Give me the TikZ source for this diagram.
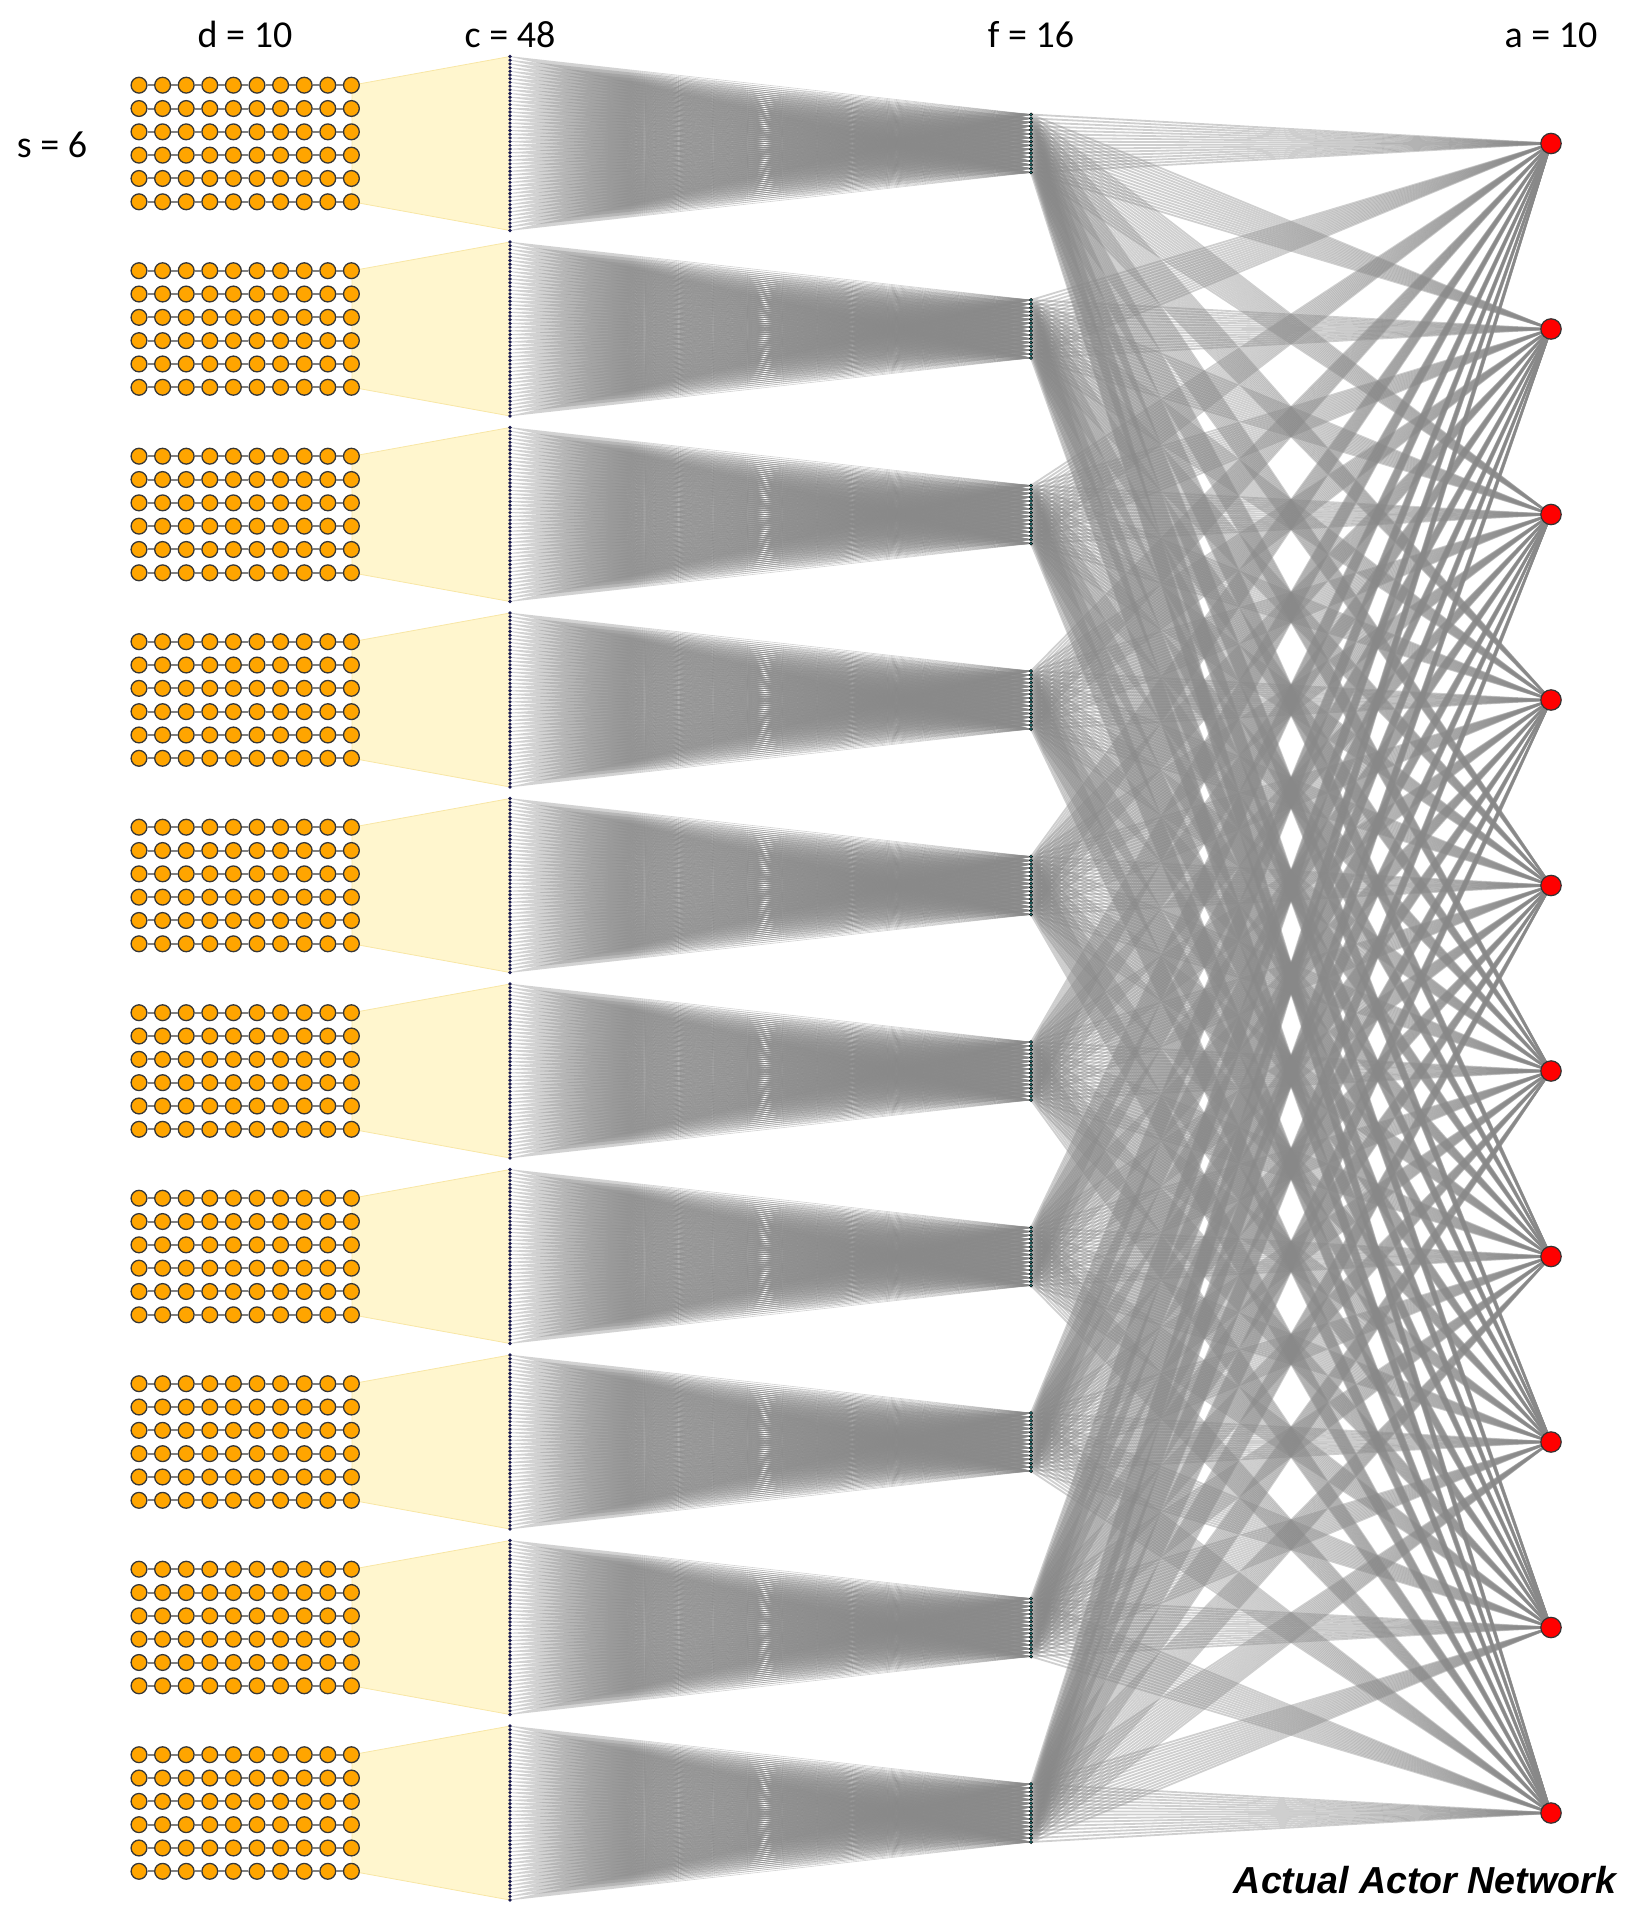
\documentclass[tikz,border=0pt]{standalone}
\usepackage{fontspec}
\setmainfont{Carlito}
\newfontfamily\titlefont{Liberation Sans}

\definecolor{inorange}{RGB}{255,165,0}
\definecolor{inedge}{RGB}{55,55,55}
\definecolor{trapfill}{RGB}{255,246,206}
\definecolor{trapedge}{RGB}{248,230,165}
\definecolor{cnavy}{RGB}{25,25,80}
\definecolor{fteal}{RGB}{30,110,110}
\definecolor{linkgray}{RGB}{136,136,136}

\begin{document}
\begin{tikzpicture}[x=0.5pt, y=-0.5pt,
    innode/.style={circle, draw=inedge, fill=inorange, line width=0.65pt, minimum size=7.9pt, inner sep=0pt},
    rowlink/.style={draw=gray, line width=1pt},
    trap/.style={fill=trapfill, draw=trapedge, line width=0.4pt},
    cdot/.style={circle, fill=cnavy, inner sep=0pt, minimum size=1.8pt},
    fdot/.style={circle, draw=black, fill=fteal, line width=0.2pt, inner sep=0pt, minimum size=1.7pt},
    anode/.style={circle, draw=black!80, fill=red, line width=0.6pt, minimum size=10.2pt, inner sep=0pt},
    cflink/.style={linkgray, line width=0.3pt, opacity=0.38},
    falink/.style={linkgray, line width=0.9pt, opacity=0.4},
    dimlabel/.style={font=\fontsize{19}{23}\selectfont, anchor=base},
    netlabel/.style={font=\titlefont\bfseries\itshape\fontsize{18.8}{23}\selectfont, anchor=base}
]
    \useasboundingbox (0,0) rectangle (1645,1920);
    % Posicoes das camadas
    \foreach \k in {0,...,9} {
        \pgfmathsetmacro\yk{143.5+185.5*\k}
        \coordinate (a-\k) at (1551,\yk);
        \foreach \i in {1,...,48} {\coordinate (c-\k-\i) at (510,{\yk-87+174/47*(\i-1)});}
        \foreach \j in {1,...,16} {\coordinate (f-\k-\j) at (1031,{\yk-29+58/15*(\j-1)});}
    }
    % Trapezios
    \foreach \k in {0,...,9} {
        \pgfmathsetmacro\yk{143.5+185.5*\k}
        \draw[trap] (352,{\yk-58.3}) -- (c-\k-1) -- (c-\k-48) -- (352,{\yk+58.3}) -- cycle;
    }
    % Ligacoes c -> f (um caminho por no c)
    \foreach \k in {0,...,9}
        \foreach \i in {1,...,48}
            \draw[cflink] foreach \j in {1,...,16} {(c-\k-\i) -- (f-\k-\j)};
    % Ligacoes f -> a (um caminho por no f)
    \foreach \k in {0,...,9}
        \foreach \j in {1,...,16}
            \draw[falink] foreach \m in {0,...,9} {(f-\k-\j) -- (a-\m)};
    % Grades de entrada
    \foreach \k in {0,...,9} {
        \pgfmathsetmacro\yk{143.5+185.5*\k}
        \foreach \r in {0,...,5} {
            \foreach \q in {0,...,9}
                \node[innode] (g-\k-\r-\q) at ({139+23.6*\q},{\yk-58.3+23.32*\r}) {};
            \foreach \q [count=\p from 1] in {0,...,8}
                \draw[rowlink] (g-\k-\r-\q) -- (g-\k-\r-\p);
        }
    }
    % Nos c, f e a
    \foreach \k in {0,...,9} {
        \foreach \i in {1,...,48} \node[cdot] at (c-\k-\i) {};
        \foreach \j in {1,...,16} \node[fdot] at (f-\k-\j) {};
        \node[anode] (act-\k) at (a-\k) {};
    }
    % Rotulos
    \node[dimlabel] (lbl-d) at (245,48) {d = 10};
    \node[dimlabel] (lbl-c) at (510,48) {c = 48};
    \node[dimlabel] (lbl-f) at (1031,48) {f = 16};
    \node[dimlabel] (lbl-a) at (1551,48) {a = 10};
    \node[dimlabel] (lbl-s) at (52,158) {s = 6};
    \node[netlabel] (lbl-net) at (1425,1893) {Actual Actor Network};
\end{tikzpicture}
\end{document}
